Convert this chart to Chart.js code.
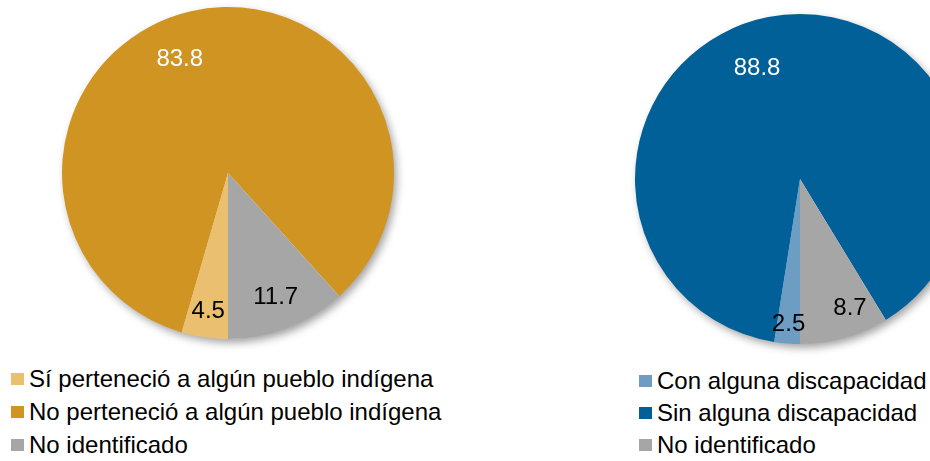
<!DOCTYPE html>
<html>
<head>
<meta charset="utf-8">
<script src="https://cdn.jsdelivr.net/npm/chart.js@4.4.1/dist/chart.umd.min.js"></script>
<style>
  html, body { margin: 0; padding: 0; width: 930px; height: 461px; overflow: hidden; background: #fff; position: relative; }
  canvas { position: absolute; }
  .legend { position: absolute; font-family: "Liberation Sans", Arial, sans-serif; color: #000; }
  .legend .row { position: absolute; left: 0; white-space: nowrap; display: flex; align-items: center; height: 30px; }
  .legend .sw { display: inline-block; width: 13px; height: 12px; margin-right: 5px; }
</style>
</head>
<body>
<canvas id="pie1" width="360" height="360" style="left:48px; top:-7px; width:360px; height:360px;"></canvas>
<canvas id="pie2" width="360" height="360" style="left:620px; top:-1px; width:360px; height:360px;"></canvas>
<div id="legend1" class="legend" style="left:11px; top:364px; font-size:24px;"></div>
<div id="legend2" class="legend" style="left:639px; top:366px; font-size:24px;"></div>
<script>
// ---- Data ----
const categories1 = ["Sí perteneció a algún pueblo indígena", "No perteneció a algún pueblo indígena", "No identificado"];
const values1 = [4.5, 83.8, 11.7];
const categories2 = ["Con alguna discapacidad", "Sin alguna discapacidad", "No identificado"];
const values2 = [2.5, 88.8, 8.7];

// ---- Styles ----
const colors1 = ["#EAC070", "#CF9422", "#A6A6A6"];
const colors2 = ["#6E9DC4", "#006097", "#A6A6A6"];
const labelColors = ["#000", "#fff", "#000"];
const labelPlace1 = [[0.845, 0], [0.745, -10], [0.80, 0]];
const labelPlace2 = [[0.885, 0], [0.72, -10], [0.84, -5.5]];

const shadowPlugin = {
  id: 'pieShadow',
  beforeDatasetsDraw(chart) {
    const arc = chart.getDatasetMeta(0).data[0];
    if (!arc) return;
    const ctx = chart.ctx;
    ctx.save();
    ctx.shadowColor = 'rgba(0,0,0,0.38)';
    ctx.shadowBlur = 8;
    ctx.shadowOffsetX = 3;
    ctx.shadowOffsetY = 4;
    ctx.fillStyle = '#ffffff';
    ctx.beginPath();
    ctx.arc(arc.x, arc.y, arc.outerRadius - 0.5, 0, Math.PI * 2);
    ctx.fill();
    ctx.restore();
  }
};

const labelPlugin = {
  id: 'sliceLabels',
  afterDatasetsDraw(chart, args, opts) {
    const ctx = chart.ctx;
    const meta = chart.getDatasetMeta(0);
    const vals = chart.data.datasets[0].data;
    ctx.save();
    ctx.font = '24px "Liberation Sans", Arial, sans-serif';
    ctx.textAlign = 'center';
    ctx.textBaseline = 'middle';
    meta.data.forEach((arc, i) => {
      const p = opts.place[i];
      const a = (arc.startAngle + arc.endAngle) / 2 + p[1] * Math.PI / 180;
      const r = arc.outerRadius * p[0];
      ctx.fillStyle = labelColors[i];
      ctx.fillText(vals[i].toFixed(1), arc.x + Math.cos(a) * r, arc.y + Math.sin(a) * r);
    });
    ctx.restore();
  }
};

function makePie(id, values, colors, place, pad) {
  return new Chart(document.getElementById(id), {
    type: 'pie',
    data: { labels: id === 'pie1' ? categories1 : categories2,
            datasets: [{ data: values, backgroundColor: colors, borderWidth: 0 }] },
    options: {
      responsive: false,
      animation: false,
      devicePixelRatio: 1,
      rotation: 180,
      layout: { padding: pad },
      plugins: {
        legend: { display: false },
        tooltip: { enabled: false },
        sliceLabels: { place: place }
      }
    },
    plugins: [shadowPlugin, labelPlugin]
  });
}

makePie('pie1', values1, colors1, labelPlace1, 14);
makePie('pie2', values2, colors2, labelPlace2, 15);

function makeLegend(id, cats, colors, tops) {
  const el = document.getElementById(id);
  cats.forEach((c, i) => {
    const row = document.createElement('div');
    row.className = 'row';
    row.style.top = tops[i] + 'px';
    const sw = document.createElement('span');
    sw.className = 'sw';
    sw.style.background = colors[i];
    const tx = document.createElement('span');
    tx.textContent = c;
    row.appendChild(sw);
    row.appendChild(tx);
    el.appendChild(row);
  });
}
makeLegend('legend1', categories1, colors1, [0, 33, 66]);
makeLegend('legend2', categories2, colors2, [0, 32, 64]);
</script>
</body>
</html>
